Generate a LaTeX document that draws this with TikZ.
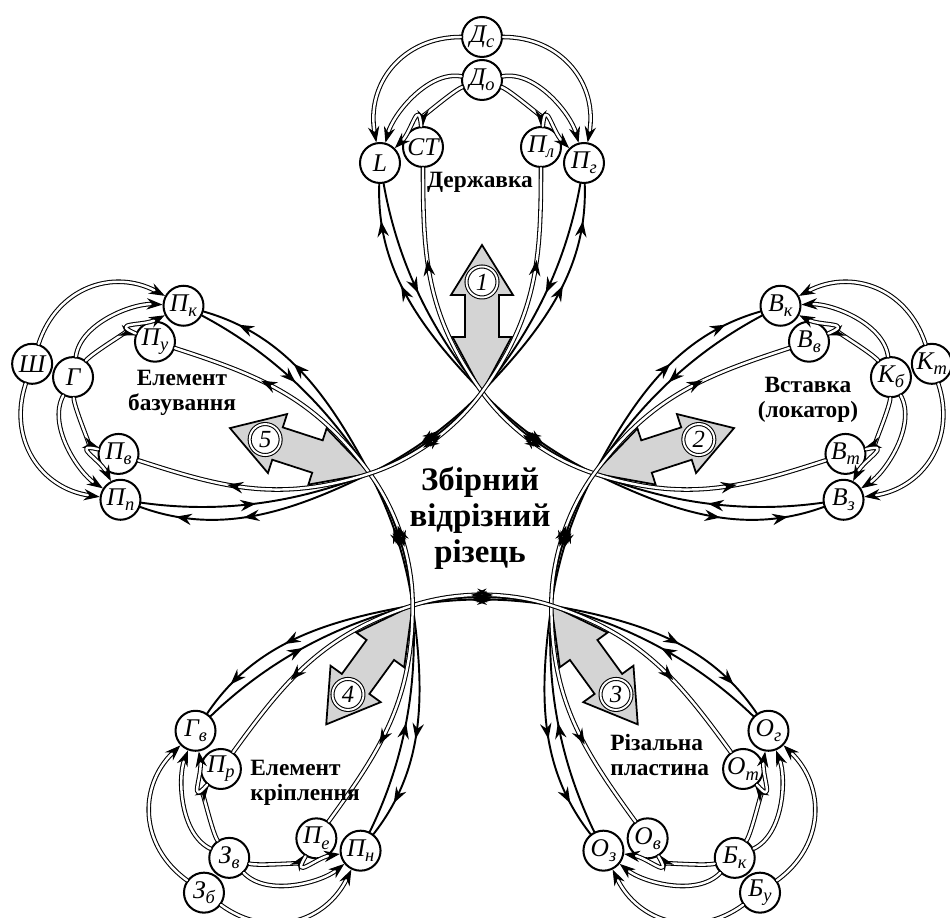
\documentclass[tikz,border=0pt]{standalone}
\usepackage{fontspec}
\setmainfont{Liberation Serif}
\usetikzlibrary{arrows.meta,decorations.markings}

\newcommand\sub[1]{\raisebox{-0.45ex}{\fontsize{10.5}{11}\selectfont #1}}

\tikzset{
  elem/.style={circle, draw, line width=1.15pt, fill=white, minimum size=0.8cm, inner sep=0pt,
    font=\itshape\fontsize{14.5}{15}\selectfont},
  numb/.style={circle, draw, double, double distance=1.1pt, line width=0.6pt, fill=white,
    minimum size=0.62cm, inner sep=0pt, font=\itshape\fontsize{14}{14}\selectfont},
  bigarrow/.style={draw, line width=1pt, fill=black!17, line join=miter},
  link/.style={line width=1.1pt},
  dlink/.style={double, double distance=1.4pt, line width=0.6pt},
  ptext/.style={font=\bfseries\fontsize{13.3}{14}\selectfont, inner sep=0pt},
  inmarks/.style={postaction={decorate}, decoration={markings,
      mark=at position 0.06 with {\arrowreversed{>}},
      mark=at position 0.17 with {\arrowreversed{>}},
      mark=at position 0.482 with {\arrowreversed{>}},
      mark=at position 0.518 with {\arrow{>}},
      mark=at position 0.83 with {\arrow{>}},
      mark=at position 0.94 with {\arrow{>}}}},
  outmarks/.style={postaction={decorate}, decoration={markings,
      mark=at position 0.19 with {\arrow{>}},
      mark=at position 0.482 with {\arrowreversed{>}},
      mark=at position 0.518 with {\arrow{>}},
      mark=at position 0.81 with {\arrowreversed{>}}}},
  dmarks/.style={postaction={decorate}, decoration={markings,
      mark=at position 0.15 with {\arrowreversed{>}},
      mark=at position 0.482 with {\arrowreversed{>}},
      mark=at position 0.518 with {\arrow{>}},
      mark=at position 0.85 with {\arrow{>}}}},
}

\begin{document}
\begin{tikzpicture}[x=0.02cm, y=0.02cm, line join=round, line cap=round,
    >={Stealth[length=9pt, width=6.5pt, inset=3pt]}]
  \useasboundingbox (-482,-408) rectangle (468,510);

  % petals: gray arrow, number, elements
  \foreach \k/\na/\nb/\nc/\nd/\ne/\nf in {
      1/L/СТ/П\sub{л}/П\sub{г}/Д\sub{о}/Д\sub{с},
      2/В\sub{к}/В\sub{в}/В\sub{т}/В\sub{з}/К\sub{б}/К\sub{т},
      3/О\sub{г}/О\sub{т}/О\sub{в}/О\sub{з}/Б\sub{к}/Б\sub{у},
      4/П\sub{н}/П\sub{е}/П\sub{р}/Г\sub{в}/З\sub{в}/З\sub{б},
      5/П\sub{п}/П\sub{в}/П\sub{у}/П\sub{к}/Г/Ш}
  {
    \begin{scope}[rotate={-72*(\k-1)}]
      \draw[bigarrow] (0,265) -- (31,215) -- (17,215) -- (17,173) -- (29.5,173) -- (0,118)
        -- (-29.5,173) -- (-17,173) -- (-17,215) -- (-31,215) -- cycle;
      \node[numb] (num\k) at (0,228) {\k};
      \coordinate (v\k) at (0,118);
      \node[elem] (lo\k) at (-102,347) {\na};
      \node[elem] (li\k) at (-59,363) {\nb};
      \node[elem] (ri\k) at (59,363) {\nc};
      \node[elem] (ro\k) at (102,347) {\nd};
      \node[elem] (hn\k) at (0,430) {\ne};
      \node[elem] (hf\k) at (0,473) {\nf};
    \end{scope}
  }

  % connections
  \foreach \k [evaluate=\k as \j using {int(mod(\k,5)+1)}] in {1,...,5} {
    \begin{scope}[rotate={-72*(\k-1)}]
      \draw[dlink,->] (hf\k) .. controls +(180:80) and +(100:80) .. (lo\k);
      \draw[dlink,->] (hf\k) .. controls +(0:80) and +(80:80) .. (ro\k);
      \draw[dlink,->] (hn\k) .. controls +(170:55) and +(75:50) .. (lo\k);
      \draw[dlink,->] (hn\k) .. controls +(10:55) and +(105:50) .. (ro\k);
      \draw[dlink,->] (hn\k) .. controls +(200:30) and +(90:30) .. (li\k);
      \draw[dlink,->] (hn\k) .. controls +(-20:30) and +(90:30) .. (ri\k);
      \draw[dlink,->] (li\k) .. controls +(95:50) and +(45:45) .. (lo\k);
      \draw[dlink,->] (ri\k) .. controls +(85:50) and +(135:45) .. (ro\k);
      % to the next petal
      \draw[link, inmarks] (lo\k) .. controls +(-92:105) and +(134:90) .. (v\k)
        .. controls +(-46:46) and +(154:46) .. (v\j)
        .. controls +(-26:90) and +(200:105) .. (ro\j);
      \draw[link, outmarks] (lo\k) .. controls +(-80:95) and +(130:85) .. (v\k)
        .. controls +(-50:46) and +(158:46) .. (v\j)
        .. controls +(-22:85) and +(188:95) .. (ro\j);
      \draw[dlink, dmarks] (li\k) .. controls +(-90:110) and +(126:95) .. (v\k)
        .. controls +(-54:46) and +(162:46) .. (v\j)
        .. controls +(-18:95) and +(198:110) .. (ri\j);
    \end{scope}
  }

  \node[font=\bfseries\fontsize{18.7}{20.4}\selectfont, align=center] (tool) at (-2,-8)
    {Збірний\\відрізний\\різець};
  \node[ptext] (t1) at (-2,328) {Державка};
  \node[ptext, align=center] (t2) at (326,110) {Вставка\\(локатор)};
  \node[ptext, align=left, anchor=west] (t3) at (128,-245) {Різальна\\пластина};
  \node[ptext, align=left, anchor=west] (t4) at (-232,-273) {Елемент\\кріплення};
  \node[ptext, align=center] (t5) at (-300,117) {Елемент\\базування};
\end{tikzpicture}
\end{document}
